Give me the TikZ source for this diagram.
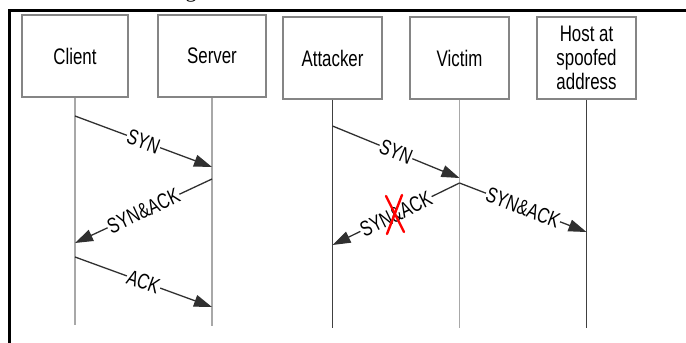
\documentclass[tikz,border=0pt]{standalone}
\usepackage{fontspec}
\setmainfont{Liberation Serif}
\newfontfamily\lblfont{Liberation Sans}[FakeStretch=0.75]
\usetikzlibrary{arrows.meta}
\definecolor{boxgray}{HTML}{858585}
\definecolor{lifelight}{HTML}{A8A8A8}
\definecolor{lifedark}{HTML}{404040}
\definecolor{msgline}{HTML}{303030}
\tikzset{
  entity/.style={draw=boxgray, line width=1.4pt, fill=white,
    minimum width=100pt, minimum height=82pt, inner sep=0pt,
    align=center, font=\lblfont\fontsize{22.5}{24}\selectfont},
  lifelight/.style={draw=lifelight, line width=1.5pt},
  lifedark/.style={draw=lifedark, line width=1.5pt},
  msg/.style={draw=msgline, line width=1.3pt,
    -{Triangle[length=18pt,width=12pt]}},
  msglabel/.style={midway, sloped, fill=white, inner xsep=1pt, inner ysep=0pt,
    font=\lblfont\fontsize{21.5}{21.5}\selectfont},
  cross/.style={draw=red, line width=2.4pt, line cap=round}
}
\begin{document}
\begin{tikzpicture}[x=1pt, y=-1pt]
\useasboundingbox (0,0) rectangle (686,343);
% frame of the figure
\draw[line width=3pt] (9.5,343) -- (9.5,10.5) -- (686,10.5);
% tail of the caption above the frame
\node[anchor=base, font=\fontsize{22}{22}\selectfont, inner sep=0pt] (cap) at (191,-2.5) {g};

% participants
\node[entity, minimum width=106pt] (client) at (75,56) {Client};
\node[entity, minimum width=108pt] (server) at (212,56) {Server};
\node[entity, minimum width=99pt] (attacker) at (332.5,58) {Attacker};
\node[entity, minimum width=99pt] (victim) at (459.5,58) {Victim};
\node[entity, minimum width=99pt] (host) at (586.5,58) {Host at\\spoofed\\address};

% lifeline ends
\coordinate (clientEnd) at (client.south |- 0,325);
\coordinate (serverEnd) at (server.south |- 0,326);
\coordinate (attackerEnd) at (attacker.south |- 0,328);
\coordinate (victimEnd) at (victim.south |- 0,328);
\coordinate (hostEnd) at (host.south |- 0,328);

\draw[lifelight] (client.south) -- (clientEnd);
\draw[lifelight] (server.south) -- (serverEnd);
\draw[lifedark] (attacker.south) -- (attackerEnd);
\draw[lifelight] (victim.south) -- (victimEnd);
\draw[lifedark] (host.south) -- (hostEnd);

% message points on the lifelines
\coordinate (c1) at (client.south |- 0,116);
\coordinate (s1) at (server.south |- 0,167);
\coordinate (s2) at (server.south |- 0,179);
\coordinate (c2) at (client.south |- 0,243);
\coordinate (c3) at (client.south |- 0,257);
\coordinate (s3) at (server.south |- 0,307);

\coordinate (a1) at (attacker.south |- 0,126);
\coordinate (v1) at (victim.south |- 0,178);
\coordinate (v2) at (victim.south |- 0,183);
\coordinate (a2) at (attacker.south |- 0,245);
\coordinate (h2) at (host.south |- 0,232);

% normal handshake
\draw[msg] (c1) -- node[msglabel] {SYN} (s1);
\draw[msg] (s2) -- node[msglabel] {SYN\&ACK} (c2);
\draw[msg] (c3) -- node[msglabel] {ACK} (s3);

% spoofed handshake
\draw[msg] (a1) -- node[msglabel] {SYN} (v1);
\draw[msg] (v2) -- node[msglabel] (lost) {SYN\&ACK} (a2);
\draw[msg] (v2) -- node[msglabel] {SYN\&ACK} (h2);

% the reply that never reaches the attacker
\draw[cross] ([shift={(-10,-18)}]lost.center) -- ([shift={(8,18)}]lost.center);
\draw[cross] ([shift={(6,-19)}]lost.center) -- ([shift={(-9,20)}]lost.center);
\end{tikzpicture}
\end{document}
